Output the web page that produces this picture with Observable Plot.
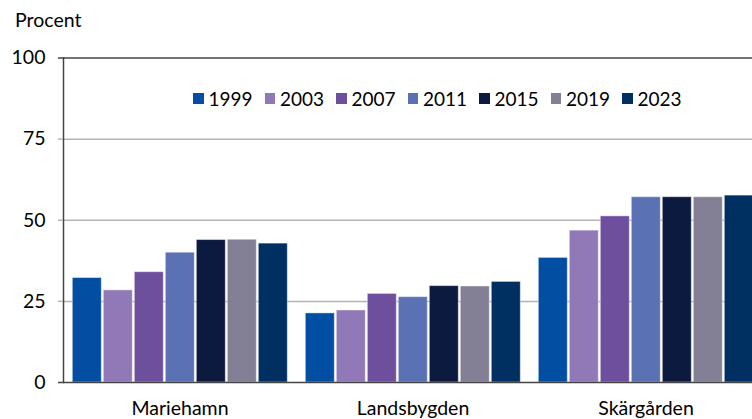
<!DOCTYPE html>
<html><head><meta charset="utf-8">
<script src="https://cdn.jsdelivr.net/npm/d3@7"></script>
<script src="https://cdn.jsdelivr.net/npm/@observablehq/plot@0.6"></script>
<style>
body{margin:0;overflow:hidden;background:#fff;font-family:Lato,sans-serif;}
#wrap{position:relative;width:752px;height:419px;overflow:hidden;}
#ylab{position:absolute;left:15px;top:8px;font-size:19.5px;color:#000;}
#legend{position:absolute;left:193px;top:87px;display:flex;font-size:19px;color:#000;}
#legend .it{display:flex;align-items:center;width:71.5px;}
#legend .sw{width:10.5px;height:10.5px;margin-right:5px;}
</style></head><body><div id="wrap"><div id="ylab">Procent</div><div id="legend"></div></div>
<script>
const groups = ["Mariehamn", "Landsbygden", "Skärgården"];
const years = ["1999", "2003", "2007", "2011", "2015", "2019", "2023"];
const colors = ["#024EA2", "#9079B6", "#6E4F9E", "#5A72B4", "#0C1A40", "#838095", "#002F62"];
const mariehamn = [32.2, 28.4, 34.0, 40.0, 43.9, 44.0, 42.8];
const landsbygden = [21.3, 22.2, 27.3, 26.3, 29.7, 29.6, 31.0];
const skargarden = [38.4, 46.8, 51.2, 57.1, 57.1, 57.1, 57.6];
const yTicks = [0, 25, 50, 75, 100];
const gridTicks = [25, 50, 75];
const frameTicks = [0, 100];

const series = [mariehamn, landsbygden, skargarden];
const data = groups.flatMap((g, gi) => years.map((y, yi) => ({group: g, year: y, value: series[gi][yi]})));

const chart = Plot.plot({
  width: 752, height: 419,
  marginLeft: 62.7, marginRight: -10.6, marginTop: 57.5, marginBottom: 37,
  style: {fontFamily: "Lato, sans-serif", fontSize: "19.5px", color: "#000", background: "transparent", overflow: "visible"},
  fx: {domain: groups, padding: 0, label: null},
  x: {domain: years, paddingInner: 0.068, paddingOuter: 0.23, axis: null},
  y: {domain: [0, 100], axis: null},
  color: {domain: years, range: colors},
  marks: [
    Plot.gridY(gridTicks, {stroke: "#b3b3b3", strokeOpacity: 1, strokeWidth: 1.5}),
    Plot.barY(data, {fx: "group", x: "year", y: "value", fill: "year", stroke: "#fff", strokeOpacity: 0.45, strokeWidth: 1}),
    Plot.ruleY(frameTicks, {stroke: "#444", strokeWidth: 1.5}),
    Plot.frame({anchor: "left", stroke: "#444", strokeWidth: 1.5, facetAnchor: "left"}),
    Plot.axisY(gridTicks, {tickSize: 5, tickPadding: 13, stroke: "#b3b3b3", strokeWidth: 1.5, fill: "#000", label: null}),
    Plot.axisY(frameTicks, {tickSize: 5, tickPadding: 13, stroke: "#444", strokeWidth: 1.5, fill: "#000", label: null}),
    Plot.axisFx({anchor: "bottom", tickSize: 0, tickPadding: 19, label: null, fill: "#000"})
  ]
});
const wrap = document.getElementById("wrap");
wrap.insertBefore(chart, wrap.firstChild);
chart.style.position = "absolute"; chart.style.left = "0"; chart.style.top = "0";

const leg = document.getElementById("legend");
years.forEach((y, i) => {
  const it = document.createElement("div"); it.className = "it";
  const sw = document.createElement("div"); sw.className = "sw"; sw.style.background = colors[i];
  const t = document.createElement("span"); t.textContent = y;
  it.appendChild(sw); it.appendChild(t); leg.appendChild(it);
});
</script></body></html>
